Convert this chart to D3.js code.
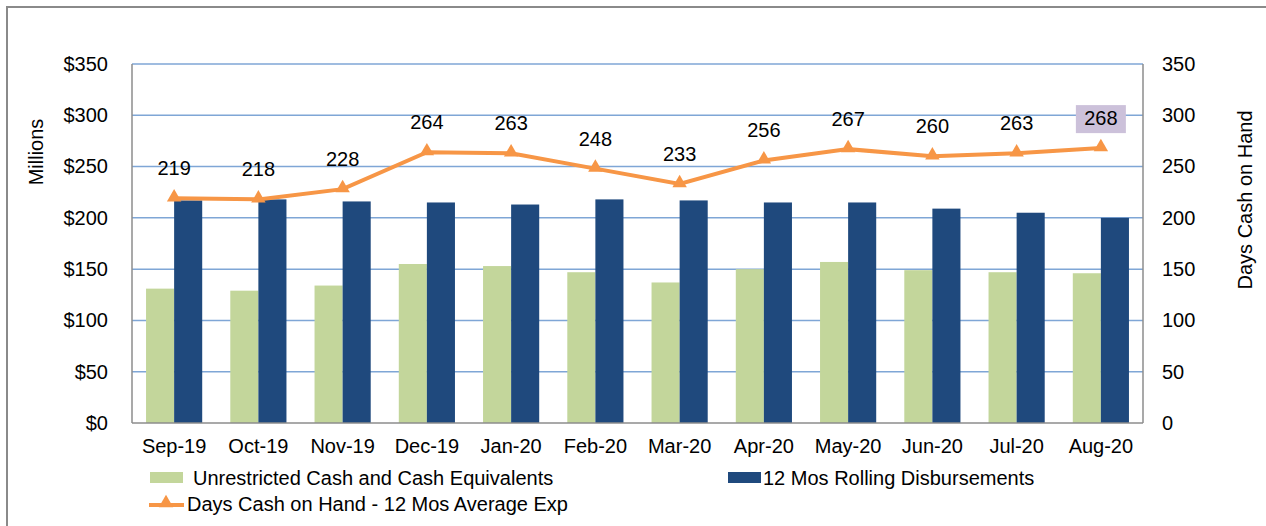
<!DOCTYPE html>
<html lang="en">
<head>
    <meta charset="UTF-8">
    <title>Cash and Days Cash on Hand</title>
    <script src="https://d3js.org/d3.v7.min.js"></script>
    <style>
        body { margin: 0; background-color: white; }
        svg text { font-family: "Liberation Sans", Arial, sans-serif; fill: #000; }
    </style>
</head>
<body>
    <svg id="chart" width="1266" height="526"></svg>
    <script>
        // chart data
        const months = ["Sep-19", "Oct-19", "Nov-19", "Dec-19", "Jan-20", "Feb-20",
                        "Mar-20", "Apr-20", "May-20", "Jun-20", "Jul-20", "Aug-20"];
        const unrestrictedCash = [131, 129, 134, 155, 153, 147, 137, 150, 157, 149, 147, 146];
        const rollingDisb = [217, 218, 216, 215, 213, 218, 217, 215, 215, 209, 205, 200];
        const daysCash = [219, 218, 228, 264, 263, 248, 233, 256, 267, 260, 263, 268];
        const leftTicks = [0, 50, 100, 150, 200, 250, 300, 350];
        const seriesNames = ["Unrestricted Cash and Cash Equivalents",
                             "12 Mos Rolling Disbursements",
                             "Days Cash on Hand - 12 Mos Average Exp"];

        const green = "#C3D69B", navy = "#1F497D", orange = "#F79646", grid = "#7FA6D6";
        const fs = 20;

        const svg = d3.select("#chart");
        const plot = { left: 132, right: 1143, top: 64, bottom: 423 };

        // outer frame
        svg.append("rect")
            .attr("x", 7).attr("y", 7)
            .attr("width", 1280).attr("height", 540)
            .attr("fill", "none").attr("stroke", "#8a8a8a").attr("stroke-width", 2);

        const x = d3.scaleBand().domain(months)
            .range([plot.left, plot.right]).paddingInner(1 / 3).paddingOuter(1 / 6);
        const sub = d3.scaleBand().domain([0, 1]).range([0, x.bandwidth()]);
        const y = d3.scaleLinear().domain([0, 350]).range([plot.bottom, plot.top]);
        const y2 = d3.scaleLinear().domain([0, 350]).range([plot.bottom, plot.top]);

        // gridlines
        svg.append("g").selectAll("line").data(leftTicks.slice(1)).join("line")
            .attr("x1", plot.left).attr("x2", plot.right)
            .attr("y1", d => y(d)).attr("y2", d => y(d))
            .attr("stroke", grid).attr("stroke-width", 1.5);

        // bars
        svg.append("g").selectAll("rect").data(unrestrictedCash).join("rect")
            .attr("x", (d, i) => x(months[i]) + sub(0))
            .attr("y", d => y(d))
            .attr("width", sub.bandwidth())
            .attr("height", d => y(0) - y(d))
            .attr("fill", green);
        svg.append("g").selectAll("rect").data(rollingDisb).join("rect")
            .attr("x", (d, i) => x(months[i]) + sub(1))
            .attr("y", d => y(d))
            .attr("width", sub.bandwidth())
            .attr("height", d => y(0) - y(d))
            .attr("fill", navy);

        // axis frame lines
        const axisColor = "#8c8c8c";
        svg.append("line").attr("x1", plot.left).attr("x2", plot.left)
            .attr("y1", plot.top).attr("y2", plot.bottom).attr("stroke", axisColor).attr("stroke-width", 1.5);
        svg.append("line").attr("x1", plot.right).attr("x2", plot.right)
            .attr("y1", plot.top).attr("y2", plot.bottom).attr("stroke", axisColor).attr("stroke-width", 1.5);
        svg.append("line").attr("x1", plot.left).attr("x2", plot.right)
            .attr("y1", plot.bottom).attr("y2", plot.bottom).attr("stroke", axisColor).attr("stroke-width", 1.5);

        // left axis
        const leftAxis = svg.append("g")
            .attr("transform", `translate(${plot.left},0)`)
            .call(d3.axisLeft(y).tickValues(leftTicks).tickFormat(d => "$" + d).tickSize(0).tickPadding(24));
        leftAxis.select(".domain").remove();
        leftAxis.selectAll("text").style("font-size", fs + "px").attr("font-family", null);

        // right axis
        const rightAxis = svg.append("g")
            .attr("transform", `translate(${plot.right},0)`)
            .call(d3.axisRight(y2).tickValues(leftTicks).tickSize(0).tickPadding(19));
        rightAxis.select(".domain").remove();
        rightAxis.selectAll("text").style("font-size", fs + "px").attr("font-family", null);

        // x axis
        const xAxis = svg.append("g")
            .attr("transform", `translate(0,${plot.bottom})`)
            .call(d3.axisBottom(x).tickSize(0).tickPadding(16));
        xAxis.select(".domain").remove();
        xAxis.selectAll("text").style("font-size", fs + "px").attr("font-family", null);

        // axis titles
        svg.append("text").attr("transform", "translate(43,152) rotate(-90)")
            .attr("text-anchor", "middle").style("font-size", fs + "px").text("Millions");
        svg.append("text").attr("transform", "translate(1252,200) rotate(-90)")
            .attr("text-anchor", "middle").style("font-size", fs + "px").text("Days Cash on Hand");

        // days cash line
        const cx = i => x(months[i]) + x.bandwidth() / 2;
        const line = d3.line().x((d, i) => cx(i)).y(d => y2(d));
        svg.append("path").datum(daysCash)
            .attr("d", line).attr("fill", "none")
            .attr("stroke", orange).attr("stroke-width", 4);
        const tri = d3.symbol().type(d3.symbolTriangle).size(90);
        svg.append("g").selectAll("path").data(daysCash).join("path")
            .attr("transform", (d, i) => `translate(${cx(i)},${y2(d) - 1})`)
            .attr("d", tri).attr("fill", orange);

        // data labels
        const last = daysCash.length - 1;
        svg.append("rect")
            .attr("x", cx(last) - 25).attr("y", y2(daysCash[last]) - 43)
            .attr("width", 50).attr("height", 28)
            .attr("fill", "#CCC1DA");
        svg.append("g").selectAll("text").data(daysCash).join("text")
            .attr("x", (d, i) => cx(i))
            .attr("y", d => y2(d) - 23)
            .attr("text-anchor", "middle")
            .style("font-size", fs + "px")
            .text(d => d);

        // legend
        const lg = svg.append("g");
        lg.append("rect").attr("x", 150).attr("y", 472).attr("width", 33).attr("height", 11).attr("fill", green);
        lg.append("text").attr("x", 193).attr("y", 485).style("font-size", fs + "px").text(seriesNames[0]);
        lg.append("rect").attr("x", 728).attr("y", 472).attr("width", 33).attr("height", 11).attr("fill", navy);
        lg.append("text").attr("x", 763).attr("y", 485).style("font-size", fs + "px").text(seriesNames[1]);
        lg.append("line").attr("x1", 149).attr("x2", 184).attr("y1", 505).attr("y2", 505)
            .attr("stroke", orange).attr("stroke-width", 4);
        lg.append("path").attr("transform", "translate(166,503)").attr("d", tri).attr("fill", orange);
        lg.append("text").attr("x", 187).attr("y", 511).style("font-size", fs + "px").text(seriesNames[2]);
    </script>
</body>
</html>
